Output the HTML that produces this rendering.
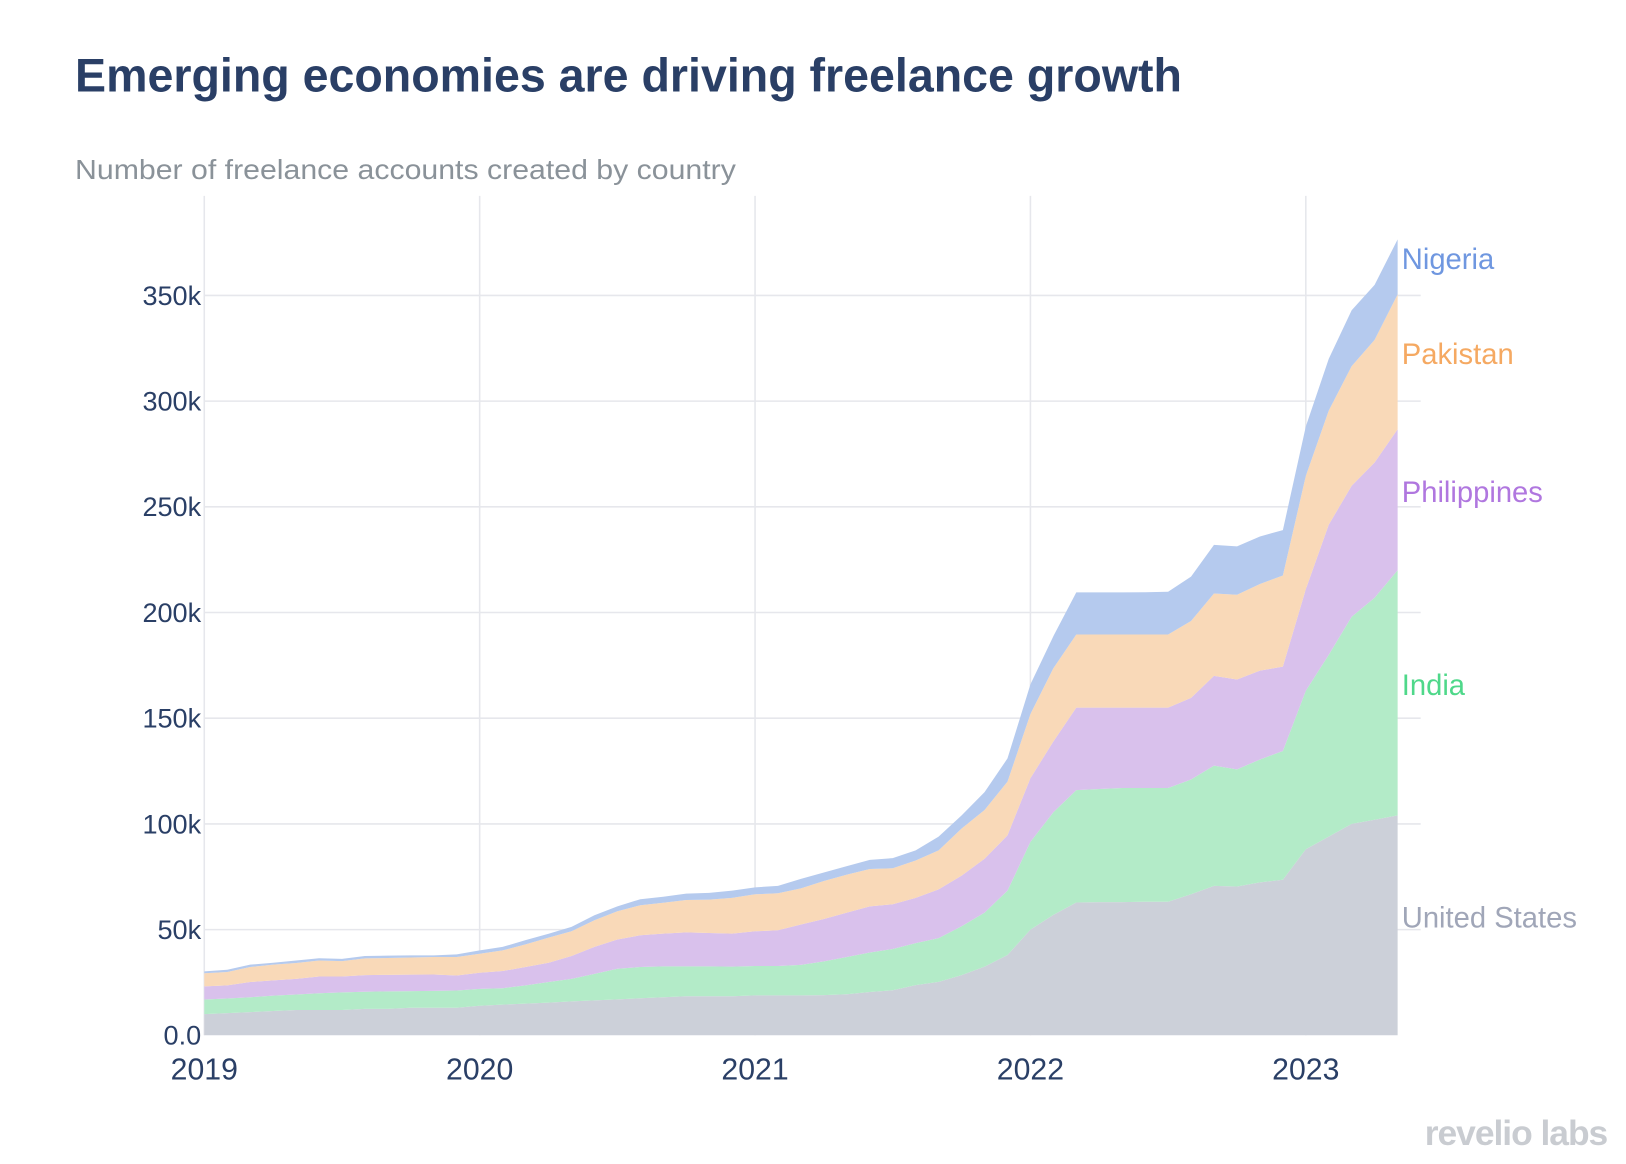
<!DOCTYPE html>
<html><head><meta charset="utf-8"><style>
html,body{margin:0;padding:0;background:#fff;}
svg{display:block;font-family:"Liberation Sans",sans-serif;}
</style></head><body>
<svg id="chart" width="1626" height="1164" viewBox="0 0 1560 1117" preserveAspectRatio="none" xmlns="http://www.w3.org/2000/svg">
<text x="72" y="88" font-size="45" font-weight="bold" fill="#2a3f66" textLength="1062" lengthAdjust="spacingAndGlyphs">Emerging economies are driving freelance growth</text>
<text x="72" y="172" font-size="27" fill="#8a9299" textLength="634" lengthAdjust="spacingAndGlyphs">Number of freelance accounts created by country</text>
<g id="grid"></g>
<g id="areas"></g>
<g id="axes"></g>
<g id="labels"></g>
<text x="1542" y="1099" text-anchor="end" font-size="34" font-weight="bold" fill="#c9ccd1" letter-spacing="-1">revelio labs</text>
</svg>
<script>
const startYear = 2019;
const seriesNames = ["United States","India","Philippines","Pakistan","Nigeria"];
const unitedStates = [10,10.5,11,11.5,12,12,12,12.5,12.5,13,13,13,
14,14.5,15,15.5,16,16.5,17,17.5,18,18.5,18.5,18.5,
18.9,18.9,18.9,19,19.4,20.5,21.3,23.7,25.3,28.5,32.5,38,
50,57,62.8,63,63,63.2,63.2,66.7,70.7,70.4,72.3,73.6,
88,94,100,102,104];
const india = [6.9,6.9,7,7.3,7.3,7.9,8.3,8.1,8.3,7.9,8,8.2,
8,7.8,8.6,9.7,10.7,12.6,14.5,14.8,14.6,14.1,14.1,14,
13.9,13.9,14.4,16,17.6,18.7,19.5,19.9,20.7,23.1,25.5,30.4,
41.5,48.5,53.2,53.5,54,53.8,53.8,54.3,56.9,55.4,58.2,60.9,
75,86,98,105,116];
const philippines = [6.2,6.2,7.2,7.2,7.4,7.9,7.5,7.9,7.8,7.8,7.8,7.1,
7.6,8.1,8.7,9.1,10.8,12.7,13.8,15,15.5,16.1,15.8,15.6,
16.4,16.9,19.1,20,21,21.8,21.2,21.4,23,23.9,25.5,26.2,
30.1,33.5,39,38.5,38,38,38,38.6,42.4,42.5,42,39.9,
48,61.5,62,64,66.7];
const pakistan = [6.3,6.3,7.1,7.4,7.5,7.6,7.3,7.9,8,8.1,8.2,8.7,
9,9.8,10.7,11.9,11.7,12.6,13.4,14.2,14.6,15.3,15.8,16.9,
17.5,17.5,17.1,18,18,17.7,17,17.7,18.5,22.3,23.1,25.4,
30.4,34.6,34.6,34.6,34.6,34.6,34.6,36.4,39,40.1,41,43.1,
53.6,54,56.6,58,63.8];
const nigeria = [0.8,1.1,1.1,0.9,1.2,1.1,1.1,1.1,1.1,1,0.8,1.3,
1.6,1.6,2,1.8,2.1,2.4,2.3,2.9,2.8,3,3.2,3.4,
3.3,3.5,4.5,4,4,4.3,4.8,4.8,6.5,6.2,8.4,11,
14,15.2,19.9,19.9,19.9,20,20.2,21,23,22.9,22.5,21.5,
23.4,24.5,26.4,26,26];
const yTicks = [0,50,100,150,200,250,300,350];
const yTickLabels = ["0.0","50k","100k","150k","200k","250k","300k","350k"];
const xTickYears = [2019,2020,2021,2022,2023];

const NS="http://www.w3.org/2000/svg";
const X0=196, YEARW=264.2, Y0=993.5, PX_PER_K=710/350, GRID_R=1363;
function xScale(m){return X0+m*YEARW/12;}
function xYear(yr){return X0+(yr-startYear)*YEARW;}
function yScale(v){return Y0-v*PX_PER_K;}
function mk(tag,attrs,parent){const e=document.createElementNS(NS,tag);for(const k in attrs)e.setAttribute(k,attrs[k]);parent.appendChild(e);return e;}

const grid=document.getElementById('grid');
yTicks.forEach((t,i)=>{
  if(t>0){const l=mk('line',{x1:X0,x2:GRID_R,y1:yScale(t),y2:yScale(t),stroke:'#e6e7ec','stroke-width':1.5},grid);
  
  }
});
xTickYears.forEach(yr=>{
  const l=mk('line',{x1:xYear(yr),x2:xYear(yr),y1:188,y2:Y0,stroke:'#e6e7ec','stroke-width':1.5},grid);
  
  
});

const series=[unitedStates,india,philippines,pakistan,nigeria];
const colors=['#ccd0d9','#b3ebc8','#d9c1ec','#f9d9b8','#b5caee'];
const labelColors=['#a0a6b8','#4fd88a','#b077df','#f5a962','#6f97e0'];
const names=['united-states','india','philippines','pakistan','nigeria'];
const areas=document.getElementById('areas');
const labels=document.getElementById('labels');
const n=unitedStates.length;
let base=new Array(n).fill(0);
series.forEach((s,si)=>{
  const top=s.map((v,i)=>base[i]+v);
  let d='';
  for(let i=0;i<n;i++)d+=(i?'L':'M')+xScale(i).toFixed(1)+','+yScale(top[i]).toFixed(1);
  for(let i=n-1;i>=0;i--)d+='L'+xScale(i).toFixed(1)+','+yScale(base[i]).toFixed(1);
  d+='Z';
  const p=mk('path',{d:d,fill:colors[si]},areas);
  
  
  const mid=(top[n-1]+base[n-1])/2;
  const t=mk('text',{x:xScale(n-1)+4,y:yScale(mid)+2,'font-size':28,fill:labelColors[si]},labels);
  t.textContent=seriesNames[si];
  
  
  base=top;
});

const axes=document.getElementById('axes');
yTicks.forEach((t,i)=>{
  const e=mk('text',{x:193,y:yScale(t)+9,'text-anchor':'end','font-size':26,fill:'#2a3f66'},axes);
  e.textContent=yTickLabels[i];
  
  
});
xTickYears.forEach(yr=>{
  const e=mk('text',{x:xYear(yr),y:1036,'text-anchor':'middle','font-size':29,fill:'#2a3f66'},axes);
  e.textContent=String(yr);
  
  
});
</script>
</body></html>
